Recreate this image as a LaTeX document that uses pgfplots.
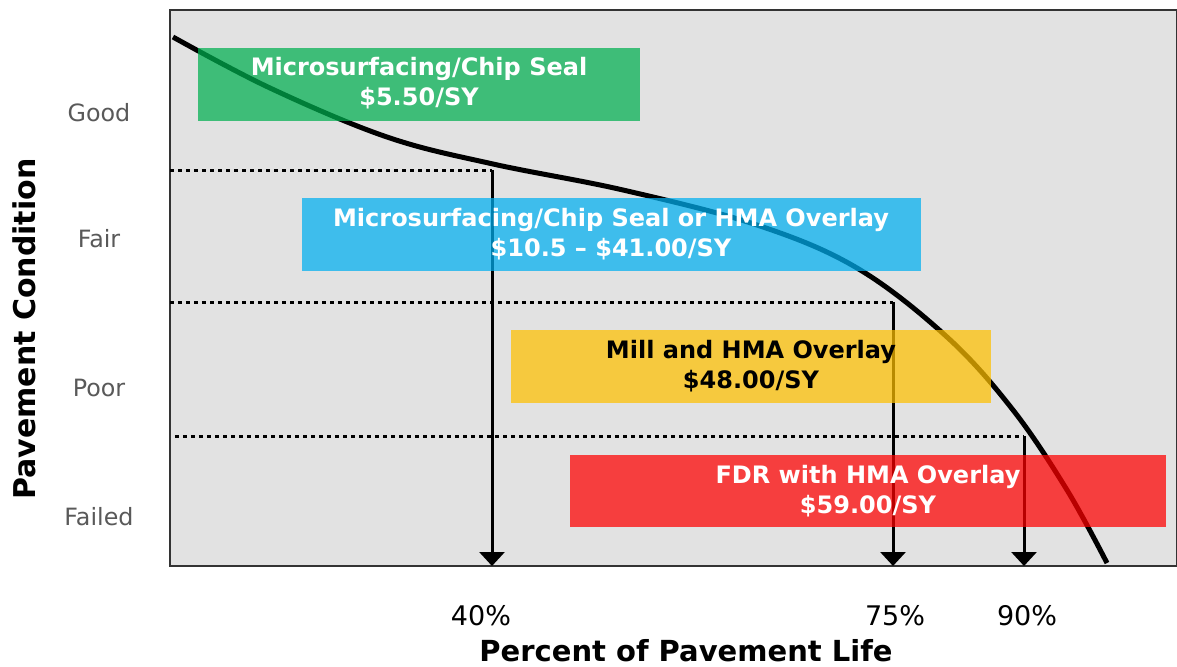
\documentclass[border=0pt]{standalone}
\usepackage{fontspec}
\setmainfont{DejaVu Sans}
\usepackage{pgfplots}
\pgfplotsset{compat=1.18}
\usetikzlibrary{arrows.meta}

\definecolor{bggray}{RGB}{226,226,226}
\definecolor{tickgray}{RGB}{89,89,89}
\definecolor{xgreen}{RGB}{0,176,80}
\definecolor{xblue}{RGB}{0,176,240}
\definecolor{xyellow}{RGB}{255,192,0}
\definecolor{xred}{RGB}{255,0,0}

\begin{document}
\begin{tikzpicture}
\begin{axis}[
  x=0.5pt, y=0.5pt,
  xmin=170, xmax=1177, ymin=100, ymax=656,
  axis background/.style={fill=bggray},
  axis line style={draw=black!80, line width=0.7pt},
  clip=false,
  major tick length=0pt,
  xtick={481,895,1027},
  xticklabels={40\%,75\%,90\%},
  xticklabel style={anchor=center, yshift=-25pt, font=\fontsize{13.5}{16}\selectfont},
  ytick={149,278,427,553},
  yticklabels={Failed,Poor,Fair,Good},
  yticklabel style={anchor=center, xshift=-35.5pt, text=tickgray, font=\fontsize{11.9}{14}\selectfont},
  xlabel={Percent of Pavement Life},
  xlabel style={at={(axis description cs:0.5124,-0.153)}, anchor=center, font=\bfseries\fontsize{14.5}{17}\selectfont},
  ylabel={Pavement Condition},
  ylabel style={at={(axis description cs:-0.145,0.426)}, anchor=center, font=\bfseries\fontsize{15}{18}\selectfont},
]
\coordinate (BL) at (axis cs:0,0);
\coordinate (TR) at (axis cs:1177,666);

% deterioration curve
\addplot[black, line width=2.5pt, smooth, tension=0.6] coordinates {
  (173,629) (270,578) (387,529) (493,502) (623,476) (757,441)
  (857,398) (947,329) (1013,256) (1067,176) (1107,103)};

% condition thresholds
\addplot[black, line width=1.5pt, dash pattern=on 2pt off 2pt] coordinates {(170,496) (492,496)};
\addplot[black, line width=1.5pt, dash pattern=on 2pt off 2pt] coordinates {(170,364) (893,364)};
\addplot[black, line width=1.5pt, dash pattern=on 2pt off 2pt] coordinates {(175,230) (1024,230)};
\addplot[black, line width=1.5pt, -{Triangle[width=12.5pt,length=7pt]}] coordinates {(492,496) (492,100)};
\addplot[black, line width=1.5pt, -{Triangle[width=12.5pt,length=7pt]}] coordinates {(893,364) (893,100)};
\addplot[black, line width=1.5pt, -{Triangle[width=12.5pt,length=7pt]}] coordinates {(1024,230) (1024,100)};

% treatment boxes
\addplot[draw=none, fill=xgreen, fill opacity=0.72] coordinates {(198,545) (640,545) (640,618) (198,618)} -- cycle;
\addplot[draw=none, fill=xblue, fill opacity=0.72] coordinates {(302,395) (921,395) (921,468) (302,468)} -- cycle;
\addplot[draw=none, fill=xyellow, fill opacity=0.72] coordinates {(511,263) (991,263) (991,336) (511,336)} -- cycle;
\addplot[draw=none, fill=xred, fill opacity=0.72] coordinates {(570,139) (1166,139) (1166,211) (570,211)} -- cycle;

\begin{scope}[every node/.style={align=center, font=\bfseries\fontsize{12}{15}\selectfont}]
\node[white] at (axis cs:419,583) {Microsurfacing/Chip Seal\\\$5.50/SY};
\node[white] at (axis cs:611,432) {Microsurfacing/Chip Seal or HMA Overlay\\\$10.5 – \$41.00/SY};
\node[black] at (axis cs:751,300) {Mill and HMA Overlay\\\$48.00/SY};
\node[white] at (axis cs:868,175) {FDR with HMA Overlay\\\$59.00/SY};
\end{scope}
\end{axis}
\pgfresetboundingbox
\useasboundingbox (BL) rectangle (TR);
\end{tikzpicture}
\end{document}
